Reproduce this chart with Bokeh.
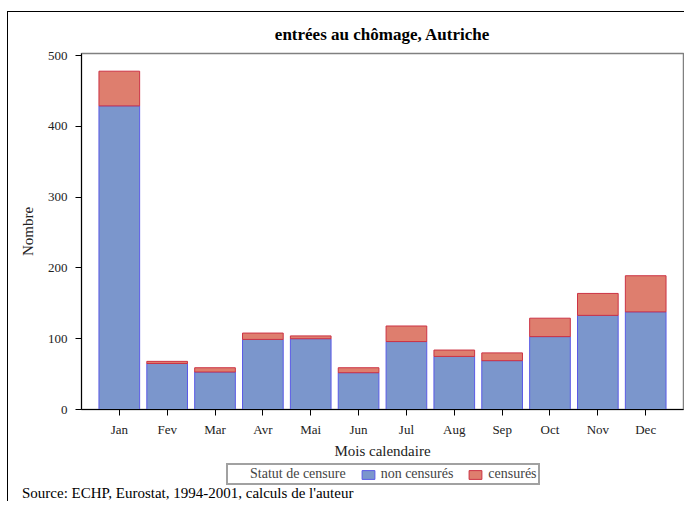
from bokeh.plotting import figure
from bokeh.layouts import column
from bokeh.models import (Legend, LegendItem, Range1d, FactorRange, Div,
                          FixedTicker, ColumnDataSource)
from bokeh.embed import file_html
from bokeh.resources import INLINE

months = ["Jan", "Fev", "Mar", "Avr", "Mai", "Jun", "Jul", "Aug", "Sep", "Oct", "Nov", "Dec"]
non_censures = [429, 65, 53, 99, 100, 52, 96, 75, 69, 103, 133, 138]
censures = [49, 3, 6, 9, 4, 7, 22, 9, 11, 26, 31, 51]
y_ticks = [0, 100, 200, 300, 400, 500]

FONT = "Liberation Serif"
BLUE_FILL, BLUE_LINE = "#7b96cc", "#5a5ae6"
RED_FILL, RED_LINE = "#de7e6e", "#cc3344"
W = 684

src = ColumnDataSource(dict(months=months, non=non_censures, cen=censures))

# ---------------- main chart ----------------
p = figure(
    x_range=FactorRange(factors=months, range_padding=0.29, range_padding_units="absolute"),
    y_range=Range1d(0, 503),
    width=W, height=461,
    output_backend="svg", toolbar_location=None,
    min_border_left=81, min_border_right=1, min_border_top=53, min_border_bottom=51,
)
p.border_fill_color = None
p.background_fill_color = "white"

rs = p.vbar_stack(["non", "cen"], x="months", width=0.85, source=src,
                  fill_color=[BLUE_FILL, RED_FILL], line_color=[BLUE_LINE, RED_LINE],
                  line_width=1)

p.title.text = "entrées au chômage, Autriche"
p.title.align = "center"
p.title.text_font = FONT
p.title.text_font_size = "17px"
p.title.text_font_style = "bold"
p.title.text_color = "black"
p.title.standoff = 19

p.xgrid.grid_line_color = None
p.ygrid.grid_line_color = None
p.outline_line_color = "#808080"
p.outline_line_width = 1.5

for ax in (p.xaxis[0], p.yaxis[0]):
    ax.axis_line_color = "black"
    ax.major_tick_line_color = "black"
    ax.major_tick_out = 6
    ax.major_tick_in = 0
    ax.minor_tick_line_color = None
    ax.major_label_text_font = FONT
    ax.major_label_text_font_size = "13px"
    ax.major_label_text_color = "#222222"
    ax.axis_label_text_font = FONT
    ax.axis_label_text_font_size = "15px"
    ax.axis_label_text_font_style = "normal"
    ax.axis_label_text_color = "#222222"

p.yaxis[0].ticker = FixedTicker(ticks=y_ticks)
p.yaxis[0].major_label_standoff = 8
p.yaxis[0].axis_label = "Nombre"
p.yaxis[0].axis_label_standoff = 9
p.xaxis[0].major_label_standoff = 6
p.xaxis[0].axis_label = "Mois calendaire"
p.xaxis[0].axis_label_standoff = 3

# ---------------- legend strip ----------------
H2 = 25
q = figure(width=W, height=H2,
           x_range=FactorRange(factors=months), y_range=Range1d(0, 503),
           output_backend="svg", toolbar_location=None,
           x_axis_location=None, y_axis_location=None,
           min_border_left=0, min_border_right=0, min_border_top=0, min_border_bottom=0)
q.xgrid.grid_line_color = None
q.ygrid.grid_line_color = None
q.outline_line_color = None
q.background_fill_color = None
q.border_fill_color = None

# hidden copies of the two series, used only to give the legend its swatches
title_holder = q.vbar(x=[], top=[], width=0.5, fill_alpha=0, line_alpha=0)
blue_proxy = q.vbar(x="months", top="non", width=0.85, source=src,
                    fill_color=BLUE_FILL, line_color=BLUE_LINE, visible=False)
red_proxy = q.vbar(x="months", top="cen", width=0.85, source=src,
                   fill_color=RED_FILL, line_color=RED_LINE, visible=False)

legend = Legend(
    items=[LegendItem(label="Statut de censure", renderers=[title_holder]),
           LegendItem(label="non censurés", renderers=[blue_proxy]),
           LegendItem(label="censurés", renderers=[red_proxy])],
    orientation="horizontal", location=(145, 1),
    label_text_font=FONT, label_text_font_size="14px",
    glyph_width=16, glyph_height=11, label_standoff=5, spacing=14,
    label_height=13, padding=1, margin=0,
    border_line_color="#444444", border_line_width=2,
    background_fill_color="white", click_policy="none",
)
q.add_layout(legend, "center")

note = Div(text="Source: ECHP, Eurostat, 1994-2001, calculs de l'auteur",
           width=W, height=15, margin=0,
           styles={"font-family": FONT, "font-size": "15px", "line-height": "15px",
                   "padding-left": "22px", "color": "black", "white-space": "nowrap"})

page = column(p, q, note, spacing=0)
page.styles = {
    "background": ("linear-gradient(#000, #000) 7px 11px / 1px 100% no-repeat, "
                   "linear-gradient(#000, #000) 7px 11px / 100% 1px no-repeat, white"),
}

open("out.html", "w").write(file_html(page, INLINE))
